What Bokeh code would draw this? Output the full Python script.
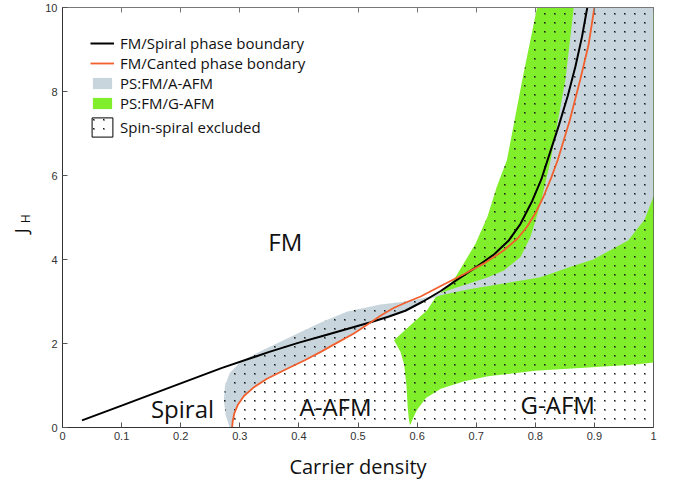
import math, zlib, struct, base64
from bokeh.plotting import figure
from bokeh.models import (Legend, LegendItem, Label, Range1d, FixedTicker,
                          LinearAxis, ColumnDataSource, ImageURLTexture)
from bokeh.embed import file_html
from bokeh.resources import INLINE

# ---------------- data ----------------
x_ticks = [0, 0.1, 0.2, 0.3, 0.4, 0.5, 0.6, 0.7, 0.8, 0.9, 1.0]
y_ticks = [0, 2, 4, 6, 8, 10]

# FM / Spiral phase boundary
spiral_x = [0.033, 0.1, 0.2, 0.27, 0.35, 0.40, 0.44, 0.48, 0.52, 0.55,
            0.58, 0.61, 0.64, 0.668, 0.70, 0.73, 0.755, 0.775, 0.795,
            0.81, 0.825, 0.84, 0.855, 0.868, 0.879, 0.888]
spiral_j = [0.17, 0.52, 1.05, 1.42, 1.80, 2.02, 2.18, 2.34, 2.50, 2.63,
            2.78, 3.00, 3.25, 3.52, 3.82, 4.12, 4.45, 4.85, 5.40,
            5.90, 6.55, 7.20, 7.90, 8.60, 9.30, 10.0]

# FM / Canted phase boundary
canted_x = [0.287, 0.288, 0.291, 0.297, 0.307, 0.324, 0.346, 0.38, 0.41,
            0.437, 0.465, 0.493, 0.516, 0.54, 0.561, 0.585, 0.606, 0.64,
            0.679, 0.715, 0.747, 0.77, 0.786, 0.80, 0.814, 0.827, 0.838,
            0.858, 0.876, 0.89, 0.90]
canted_j = [0.0, 0.15, 0.35, 0.55, 0.75, 0.96, 1.16, 1.40, 1.60,
            1.80, 2.02, 2.24, 2.45, 2.68, 2.85, 3.00, 3.12, 3.37,
            3.65, 3.92, 4.22, 4.50, 4.78, 5.10, 5.50, 5.95, 6.37,
            7.30, 8.28, 9.10, 10.0]

# PS: FM / A-AFM region
psa_x = [0.283, 0.276, 0.273, 0.275, 0.283, 0.301, 0.33, 0.38, 0.437, 0.482,
         0.538, 0.583, 0.623, 0.662, 0.719, 0.747, 0.775, 0.792, 0.809, 0.826,
         0.851, 0.865, 1.0, 1.0, 0.985, 0.957, 0.898, 0.86, 0.809, 0.747,
         0.690, 0.640, 0.61, 0.58, 0.55, 0.52, 0.493, 0.465, 0.437, 0.41,
         0.38, 0.346, 0.324, 0.307, 0.297, 0.291, 0.287]
psa_j = [0.0, 0.3, 0.65, 1.0, 1.3, 1.56, 1.78, 2.12, 2.50, 2.76,
         2.93, 3.0, 3.12, 3.31, 3.57, 3.74, 4.06, 4.54, 5.34, 6.37,
         8.28, 10.0, 10.0, 5.5, 4.95, 4.45, 4.0, 3.83, 3.58, 3.43,
         3.30, 3.15, 3.0, 2.78, 2.63, 2.48, 2.24, 2.02, 1.80, 1.60,
         1.40, 1.16, 0.96, 0.75, 0.55, 0.35, 0.0]

# PS: FM / G-AFM region
psg_x = [0.803, 0.778, 0.752, 0.735, 0.719, 0.699, 0.679, 0.662, 0.645, 0.632,
         0.617, 0.59, 0.561, 0.572, 0.578, 0.582, 0.584, 0.586, 0.588, 0.594,
         0.60, 0.615, 0.64, 0.68, 0.72, 0.80, 0.89, 0.97, 1.0, 1.0]
psg_j = [10.0, 8.28, 6.37, 5.74, 5.02, 4.38, 3.91, 3.51, 3.27, 3.12,
         2.79, 2.45, 2.08, 1.8, 1.5, 1.0, 0.5, 0.2, 0.05, 0.25,
         0.42, 0.7, 0.92, 1.10, 1.22, 1.35, 1.43, 1.50, 1.55, 10.0]

# Spin-spiral excluded region
excl_x = [0.283, 0.276, 0.273, 0.275, 0.283, 0.301, 0.33, 0.38, 0.437, 0.482,
          0.538, 0.583, 0.623, 0.645, 0.662, 0.679, 0.699, 0.719, 0.735, 0.752,
          0.778, 0.803, 1.0, 1.0]
excl_j = [0.0, 0.3, 0.65, 1.0, 1.3, 1.56, 1.78, 2.12, 2.50, 2.76,
          2.93, 3.0, 3.12, 3.27, 3.51, 3.91, 4.38, 5.02, 5.74, 6.37,
          8.28, 10.0, 10.0, 0.0]

phase_names = ["FM", "Spiral", "A-AFM", "G-AFM"]
phase_x = [0.377, 0.203, 0.462, 0.838]
phase_j = [4.42, 0.45, 0.50, 0.55]

GREY = "#c8d5dc"
GREEN = "#80ee2a"
ORANGE = "#f2602e"
MYRIAD = "Open Sans"
TICKF = "Liberation Sans"


# ---------------- small dot texture (PNG tile) ----------------
def dot_tile(w, h):
    rows = []
    for yy in range(h):
        row = []
        for xx in range(w):
            a = 0
            if (xx, yy) == (4, 4):
                a = 255
            elif (xx, yy) in ((5, 4), (4, 5), (5, 5)):
                a = 120
            row += [25, 25, 25, a]
        rows.append(b"\x00" + bytes(row))

    def chunk(tag, data):
        return (struct.pack(">I", len(data)) + tag + data +
                struct.pack(">I", zlib.crc32(tag + data) & 0xffffffff))

    png = (b"\x89PNG\r\n\x1a\n" +
           chunk(b"IHDR", struct.pack(">IIBBBBB", w, h, 8, 6, 0, 0, 0)) +
           chunk(b"IDAT", zlib.compress(b"".join(rows))) +
           chunk(b"IEND", b""))
    return "data:image/png;base64," + base64.b64encode(png).decode()


DOTS = {"dots": ImageURLTexture(url=dot_tile(10, 9), repetition="repeat")}

# ---------------- figure ----------------
p = figure(frame_width=591, frame_height=420, output_backend="svg",
           toolbar_location=None, x_range=Range1d(0, 1), y_range=Range1d(0, 10),
           min_border_left=62, min_border_right=10, min_border_top=7,
           min_border_bottom=53)
p.grid.visible = False
p.background_fill_color = "white"
p.border_fill_color = "white"
p.outline_line_color = "#555555"
p.outline_line_width = 1

for ax in (p.xaxis[0], p.yaxis[0]):
    ax.major_tick_in = 5
    ax.major_tick_out = 0
    ax.minor_tick_in = 0
    ax.minor_tick_out = 0
    ax.axis_line_color = "#333333"
    ax.major_tick_line_color = "#555555"
    ax.major_label_text_font = TICKF
    ax.major_label_text_font_size = "11px"
    ax.major_label_text_color = "#333333"

p.xaxis[0].ticker = FixedTicker(ticks=x_ticks)
p.yaxis[0].ticker = FixedTicker(ticks=y_ticks)
p.xaxis[0].major_label_overrides = {0: "0", 1.0: "1"}
p.xaxis[0].major_label_standoff = 4
p.yaxis[0].major_label_standoff = 5
p.xaxis[0].axis_label = "Carrier density"
p.xaxis[0].axis_label_text_font = MYRIAD
p.xaxis[0].axis_label_text_font_style = "normal"
p.xaxis[0].axis_label_text_font_size = "20px"
p.xaxis[0].axis_label_text_color = "#111111"
p.xaxis[0].axis_label_standoff = 10

top = LinearAxis(ticker=FixedTicker(ticks=x_ticks), major_tick_in=5,
                 major_tick_out=0, minor_tick_in=0, minor_tick_out=0,
                 major_label_text_font_size="0px", major_label_text_color=None,
                 major_label_standoff=0,
                 axis_line_color="#777777", major_tick_line_color="#777777")
p.add_layout(top, "above")

# regions
r_g = p.patch(psg_x, psg_j, fill_color=GREEN, line_color=None)
r_a = p.patch(psa_x, psa_j, fill_color=GREY, line_color=None)
p.patch(excl_x, excl_j, fill_alpha=0, line_color=None,
        hatch_pattern="dots", hatch_extra=DOTS)

# boundaries
r_s = p.line(spiral_x, spiral_j, line_color="black", line_width=2)
r_c = p.line(canted_x, canted_j, line_color=ORANGE, line_width=1.8)

# invisible renderer that only provides the excluded legend glyph
dummy = ColumnDataSource(data=dict(x=[float("nan")], y=[float("nan")]))
r_e = p.patch("x", "y", source=dummy, fill_color="white", line_color="black",
              line_width=1, hatch_pattern="dots", hatch_extra=DOTS)

# phase labels
for name, lx, ly in zip(phase_names, phase_x, phase_j):
    p.add_layout(Label(x=lx, y=ly, text=name, text_font=MYRIAD,
                       text_font_size="24px", text_align="center",
                       text_baseline="middle", text_color="#111111"))

# y-axis label J_H, placed in the left side panel (not clipped by the frame)
p.add_layout(Label(x=-0.071, y=4.68, text="J", angle=math.pi / 2,
                   text_font=MYRIAD, text_font_size="18px", text_align="center",
                   text_baseline="middle", text_color="#111111"), "left")
p.add_layout(Label(x=-0.063, y=4.97, text="H", angle=math.pi / 2,
                   text_font=MYRIAD, text_font_size="12px", text_align="center",
                   text_baseline="middle", text_color="#111111"), "left")

leg_style = dict(background_fill_alpha=0, border_line_color=None, padding=0,
                 margin=0, spacing=0, label_text_font=MYRIAD,
                 label_text_font_size="15px", label_text_color="#111111",
                 label_height=20)
leg1 = Legend(items=[LegendItem(label="FM/Spiral phase boundary", renderers=[r_s]),
                     LegendItem(label="FM/Canted phase bondary", renderers=[r_c]),
                     LegendItem(label="PS:FM/A-AFM", renderers=[r_a]),
                     LegendItem(label="PS:FM/G-AFM", renderers=[r_g])],
              location=(28, 314), glyph_width=24, glyph_height=14,
              label_standoff=6, **leg_style)
leg2 = Legend(items=[LegendItem(label="Spin-spiral excluded", renderers=[r_e])],
              location=(27, 288), glyph_width=26, glyph_height=24,
              label_standoff=5, **leg_style)
p.add_layout(leg1)
p.add_layout(leg2)

open("out.html", "w").write(file_html(p, INLINE))
